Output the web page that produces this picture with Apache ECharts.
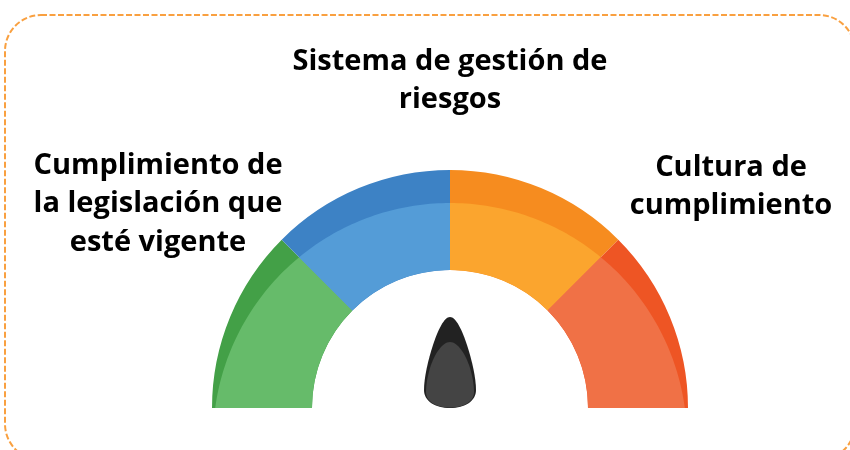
<!DOCTYPE html>
<html>
<head>
<meta charset="utf-8">
<script src="https://cdn.jsdelivr.net/npm/echarts@6/dist/echarts.min.js"></script>
<style>
  html, body { margin: 0; padding: 0; background: #fff; }
  #main { width: 850px; height: 450px; }
</style>
</head>
<body>
<div id="main"></div>
<script>
// four equal parts of the gauge, left to right
var segments = ["Cumplimiento", "Gestión de riesgos", "Cultura", "Cultura 2"];
var segValues = [1, 1, 1, 1];
var lightColors = ["#66BB6A", "#549CD7", "#FBA52E", "#F07146"];
var darkColors = ["#43A047", "#3D82C5", "#F68C1F", "#EE5524"];

var topLabel = "Sistema de gestión de\nriesgos";
var leftLabel = "Cumplimiento de\nla legislación que\nesté vigente";
var rightLabel = "Cultura de\ncumplimiento";

var chartDom = document.getElementById("main");
var myChart = echarts.init(chartDom);

var CX = 450, CY = 408, R_IN = 138, R_OUT = 238;
var OFF = 32, R_LIGHT = 237; // lighter face is a circle shifted down

var total = segValues.reduce(function (a, b) { return a + b; }, 0);
var cum = [0];
segValues.forEach(function (v, i) { cum.push(cum[i] + v); });

function lightDist(th) {
  var s = Math.sin(th);
  return OFF * s + Math.sqrt(OFF * OFF * s * s - OFF * OFF + R_LIGHT * R_LIGHT);
}

function renderItem(params, api) {
  var i = params.dataIndex;
  var a0 = Math.PI + Math.PI * cum[i] / total;
  var a1 = Math.PI + Math.PI * cum[i + 1] / total;
  var pts = [];
  var n = 40, k, th;
  for (k = 0; k <= n; k++) {
    th = a0 + (a1 - a0) * k / n;
    pts.push([CX + R_IN * Math.cos(th), CY + R_IN * Math.sin(th)]);
  }
  for (k = n; k >= 0; k--) {
    th = a0 + (a1 - a0) * k / n;
    var t = lightDist(th);
    pts.push([CX + t * Math.cos(th), CY + t * Math.sin(th)]);
  }
  return {
    type: "group",
    children: [
      {
        type: "sector",
        shape: { cx: CX, cy: CY, r0: R_IN, r: R_OUT, startAngle: a0, endAngle: a1, clockwise: true },
        style: { fill: darkColors[i] }
      },
      {
        type: "polygon",
        shape: { points: pts },
        style: { fill: lightColors[i] }
      }
    ]
  };
}

function renderNeedle() {
  return {
    type: "group",
    children: [
      {
        type: "path",
        shape: {
          pathData: "M450,317 C456,317 462,330 467,345 C472,360 476,378 476,390 C476,401 465,408 450,408 C435,408 424,401 424,390 C424,378 428,360 433,345 C438,330 444,317 450,317 Z",
          x: 424, y: 317, width: 52, height: 91, layout: "cover"
        },
        style: { fill: "#222" }
      },
      {
        type: "path",
        shape: {
          pathData: "M450,342 C458,342 466,355 470,368 C473,378 474,386 474,392 C474,402 463,407.5 450,407.5 C437,407.5 426,402 426,392 C426,386 427,378 430,368 C434,355 442,342 450,342 Z",
          x: 426, y: 342, width: 48, height: 65.5, layout: "cover"
        },
        style: { fill: "#444" }
      }
    ]
  };
}

var textStyle = {
  fontFamily: "Open Sans",
  fontWeight: "bold",
  fontSize: 29,
  lineHeight: 38.5,
  fill: "#000",
  align: "center",
  verticalAlign: "top"
};

var option = {
  animation: false,
  graphic: [
    {
      type: "rect",
      shape: { x: 5, y: 15, width: 850, height: 445, r: 36 },
      style: { fill: "none", stroke: "#F9A040", lineWidth: 2, lineDash: [6, 2.5] },
      z: 1
    },
    { type: "text", x: 450, y: 42, style: Object.assign({ text: topLabel }, textStyle) },
    { type: "text", x: 158, y: 146, style: Object.assign({ text: leftLabel }, textStyle) },
    { type: "text", x: 731, y: 148, style: Object.assign({ text: rightLabel }, textStyle) }
  ],
  series: [
    {
      type: "custom",
      coordinateSystem: "none",
      renderItem: renderItem,
      data: segValues.map(function (v, i) { return { name: segments[i], value: v }; }),
      silent: true
    },
    {
      type: "custom",
      coordinateSystem: "none",
      renderItem: renderNeedle,
      data: [0],
      silent: true,
      z: 5
    }
  ]
};

option && myChart.setOption(option);
</script>
</body>
</html>
